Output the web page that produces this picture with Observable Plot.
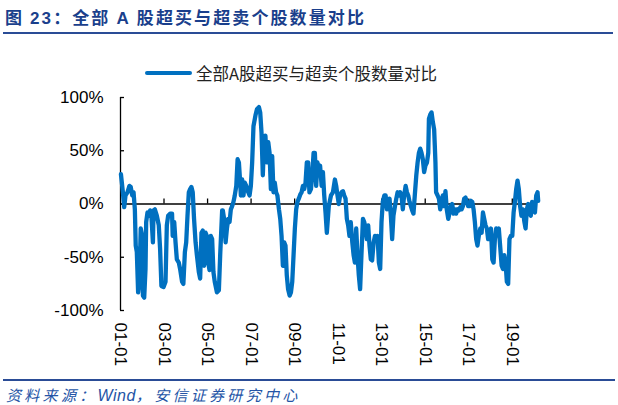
<!DOCTYPE html>
<html>
<head>
<meta charset="utf-8">
<script src="https://cdn.jsdelivr.net/npm/d3@7"></script>
<script src="https://cdn.jsdelivr.net/npm/@observablehq/plot@0.6"></script>
<style>
  html, body { margin: 0; padding: 0; background: #fff; }
  body { width: 618px; height: 405px; position: relative; overflow: hidden; font-family: "Liberation Sans", Arial, sans-serif; }
  #title { position: absolute; left: 5px; top: 5px; font-family: "Noto Sans CJK SC", sans-serif; font-weight: 700; font-size: 17px; letter-spacing: 2.1px; color: #1a3f8c; white-space: nowrap; line-height: 24px; }
  #title .lat { font-family: "Liberation Sans", Arial, sans-serif; }
  #rule1 { position: absolute; left: 3px; width: 610px; top: 32px; height: 2px; background: #2a4c96; }
  #legend { position: absolute; left: 145px; top: 62px; height: 22px; white-space: nowrap; }
  #legend .sw { position: absolute; left: 0; top: 9px; width: 47px; height: 4px; background: #0070C0; border-radius: 2px; }
  #legend .tx { position: absolute; left: 51px; top: 0; font-family: "Noto Sans CJK SC", sans-serif; font-size: 16.5px; line-height: 22px; color: #222; }
  #chart { position: absolute; left: 0; top: 80px; }
  #rule2 { position: absolute; left: 3px; width: 612px; top: 379px; height: 2px; background: #2a4c96; }
  #source { position: absolute; left: 6px; top: 385px; font-family: "Noto Sans CJK SC", sans-serif; font-style: italic; font-size: 15px; letter-spacing: 3.3px; color: #2454a6; white-space: nowrap; line-height: 20px; }
  #source .lat { font-family: "Liberation Sans", Arial, sans-serif; letter-spacing: 0.5px; font-size: 16px; }
</style>
</head>
<body>
<div id="title">图 <span class="lat">23</span>：全部 <span class="lat">A</span> 股超买与超卖个股数量对比</div>
<div id="rule1"></div>
<div id="legend"><div class="sw"></div><div class="tx">全部A股超买与超卖个股数量对比</div></div>
<div id="chart"></div>
<div id="rule2"></div>
<div id="source">资料来源：<span class="lat">Wind</span>，安信证券研究中心</div>
<script>
// Time points (decimal years) and values (%)
const times = [
  2001.02,2001.11,2001.17,2001.23,2001.32,2001.41,2001.47,2001.54,2001.60,2001.66,
  2001.70,2001.75,2001.81,2001.87,2001.93,2002.00,2002.03,2002.09,2002.15,2002.18,
  2002.24,2002.30,2002.36,2002.42,2002.49,2002.52,2002.58,2002.67,2002.76,2002.82,
  2002.88,2002.98,2003.07,2003.13,2003.19,2003.28,2003.37,2003.40,2003.47,2003.53,
  2003.59,2003.68,2003.74,2003.83,2003.89,2003.96,2004.02,2004.08,2004.14,2004.20,
  2004.26,2004.32,2004.38,2004.45,2004.51,2004.60,2004.66,2004.72,2004.78,2004.84,
  2004.91,2004.97,2005.03,2005.09,2005.15,2005.21,2005.27,2005.33,2005.43,2005.52,
  2005.58,2005.67,
  2005.70,2005.76,2005.83,2005.89,2005.95,2006.01,2006.07,2006.13,2006.19,2006.25,
  2006.32,2006.38,2006.44,2006.50,2006.53,2006.59,2006.65,2006.71,2006.78,2006.87,
  2006.93,2006.99,2007.05,2007.11,2007.20,2007.27,2007.36,2007.42,2007.48,2007.54,
  2007.60,2007.66,2007.72,2007.79,2007.85,2007.91,2007.97,2008.03,2008.09,2008.15,
  2008.21,2008.28,2008.34,2008.40,2008.46,2008.52,2008.58,2008.64,2008.70,2008.77,
  2008.83,2008.89,2008.95,2009.01,2009.07,2009.13,2009.19,2009.26,2009.32,2009.38,
  2009.44,2009.50,2009.56,2009.62,2009.68,2009.75,2009.81,2009.87,2009.93,2009.99,
  2010.05,2010.11,2010.17,2010.24,2010.30,2010.36,2010.42,2010.48,
  2010.57,2010.67,2010.76,2010.85,2010.91,2010.97,2011.03,2011.09,2011.16,2011.22,
  2011.28,2011.34,2011.40,2011.46,2011.52,2011.58,2011.65,2011.71,2011.77,2011.83,
  2011.89,2011.95,2012.01,2012.07,2012.14,2012.20,2012.26,2012.32,2012.38,2012.44,
  2012.50,2012.56,2012.63,2012.69,2012.75,2012.81,2012.87,2012.93,2012.99,2013.05,
  2013.12,2013.18,2013.24,2013.30,2013.36,2013.42,2013.48,2013.54,2013.61,2013.67,
  2013.73,2013.79,2013.85,2013.91,2013.97,2014.03,2014.10,2014.16,2014.22,2014.28,
  2014.34,2014.40,2014.46,2014.52,2014.59,2014.65,2014.71,2014.77,2014.83,2014.89,
  2014.95,2015.01,2015.08,2015.14,2015.17,2015.23,2015.29,2015.35,2015.41,
  2015.44,2015.47,2015.50,2015.57,2015.63,2015.69,2015.75,2015.81,2015.87,2015.93,
  2015.99,2016.06,2016.12,2016.18,2016.24,2016.30,2016.36,2016.42,2016.48,2016.55,
  2016.61,2016.67,2016.73,2016.79,2016.85,2016.91,2016.97,2017.04,2017.10,2017.16,
  2017.22,2017.28,2017.34,2017.40,2017.46,2017.53,2017.59,2017.65,2017.71,2017.77,
  2017.83,2017.89,2017.95,2018.02,2018.08,2018.14,2018.20,2018.26,2018.32,2018.38,
  2018.44,2018.51,2018.57,2018.63,2018.69,2018.75,2018.81,2018.87,2018.93,2019.00,
  2019.06,2019.12,2019.18,2019.24,2019.30,2019.36,2019.42,2019.49,2019.55,2019.61,
  2019.67,2019.73,2019.79,2019.85,2019.91,2019.98,2020.04,2020.10,2020.16,2020.19
];
const values = [
  28,11,-3,8,11,17,16,8,11,-5,
  -39,-45,-83,-73,-23,-30,-86,-88,-61,-17,
  -8,-11,-6,-11,-36,-6,-5,-11,-20,-42,
  -77,-78,-73,-20,-11,-9,-9,-30,-17,-36,
  -52,-55,-61,-73,-75,-45,-36,-11,11,14,
  16,11,-14,-36,-48,-64,-70,-27,-25,-58,
  -27,-30,-55,-62,-30,-33,-64,-73,-83,-81,
  -48,-6,
  -6,-14,-36,-23,-14,-17,-5,-2,2,8,
  17,42,39,20,8,23,8,20,17,11,
  8,17,39,73,83,89,91,86,67,27,
  61,64,39,58,48,14,45,11,20,11,
  8,-5,-14,-30,-58,-36,-39,-67,-80,-86,
  -83,-73,-48,-23,-5,2,5,9,11,17,
  14,20,39,39,11,14,27,48,48,17,
  39,30,36,17,30,8,-8,-27,
  -2,8,11,23,17,8,0,8,11,12,
  8,5,-14,-20,-30,-17,-36,-48,-55,-23,
  -48,-67,-80,-48,-14,-17,-23,-33,-20,-39,
  -52,-53,-36,-30,-33,-30,-55,-61,-17,2,
  8,8,-5,2,5,-11,-33,-11,-2,5,
  11,8,11,8,-5,8,17,11,8,2,
  -2,-6,-9,8,27,39,48,52,48,42,
  30,36,39,48,80,84,86,77,70,
  55,39,11,8,5,-5,2,8,-2,12,
  -5,-14,-8,-2,0,-9,-5,-9,-5,-6,
  -3,-5,-2,5,6,2,-2,-2,3,2,
  -5,-17,-33,-39,-30,-23,-27,-8,-14,-20,
  -23,-33,-30,-23,-52,-55,-33,-23,-27,-23,
  -39,-58,-61,-48,-55,-73,-75,-33,-30,-30,
  -8,2,14,22,14,-2,-11,-5,-16,-23,
  -5,0,-8,-11,2,-5,-8,8,11,3
];
const yTicks = [-100, -50, 0, 50, 100];
const xTickYears = [2001, 2003, 2005, 2007, 2009, 2011, 2013, 2015, 2017, 2019];

function toDate(t) {
  const y = Math.floor(t);
  const start = Date.UTC(y, 0, 1), end = Date.UTC(y + 1, 0, 1);
  return new Date(start + (t - y) * (end - start));
}
const data = times.map((t, i) => ({date: toDate(t), value: values[i]}));
const xStart = toDate(2001);
const xEnd = toDate(2020);
const tickDates = xTickYears.map(toDate);
const fmt = d3.utcFormat("%y-%m");

const chart = Plot.plot({
  width: 618,
  height: 295,
  marginLeft: 120,
  marginRight: 79,
  marginTop: 17,
  marginBottom: 65,
  style: {fontFamily: "'Liberation Sans', Arial, sans-serif", fontSize: "17px", color: "#000", background: "transparent", overflow: "visible"},
  x: {type: "utc", domain: [toDate(2001), toDate(2020.25)], axis: null},
  y: {domain: [-100, 100], axis: null},
  marks: [
    Plot.ruleX([xStart], {y1: -100, y2: 100, stroke: "#000", strokeWidth: 1.3}),
    Plot.tickY(yTicks, {y: d => d, stroke: "#000", strokeWidth: 1.3, insetRight: 415}),
    Plot.ruleY([0], {x1: xStart, x2: xEnd, stroke: "#000", strokeWidth: 1.3}),
    Plot.ruleX(tickDates.slice(1), {x: d => d, y1: 0, y2: 4.7, stroke: "#000", strokeWidth: 1.3}),
    Plot.line(data, {x: "date", y: "value", stroke: "#0070C0", strokeWidth: 4.3, strokeLinejoin: "round", strokeLinecap: "round"}),
    Plot.text(yTicks, {x: xStart, y: d => d, text: d => d + "%", textAnchor: "end", dx: -17, fontSize: 17, fill: "#000"}),
    Plot.text(tickDates, {x: d => d, y: -100, text: d => fmt(d), rotate: 90, textAnchor: "start", dy: 12, fontSize: 17, fill: "#000"})
  ]
});
document.getElementById("chart").appendChild(chart);
</script>
</body>
</html>
